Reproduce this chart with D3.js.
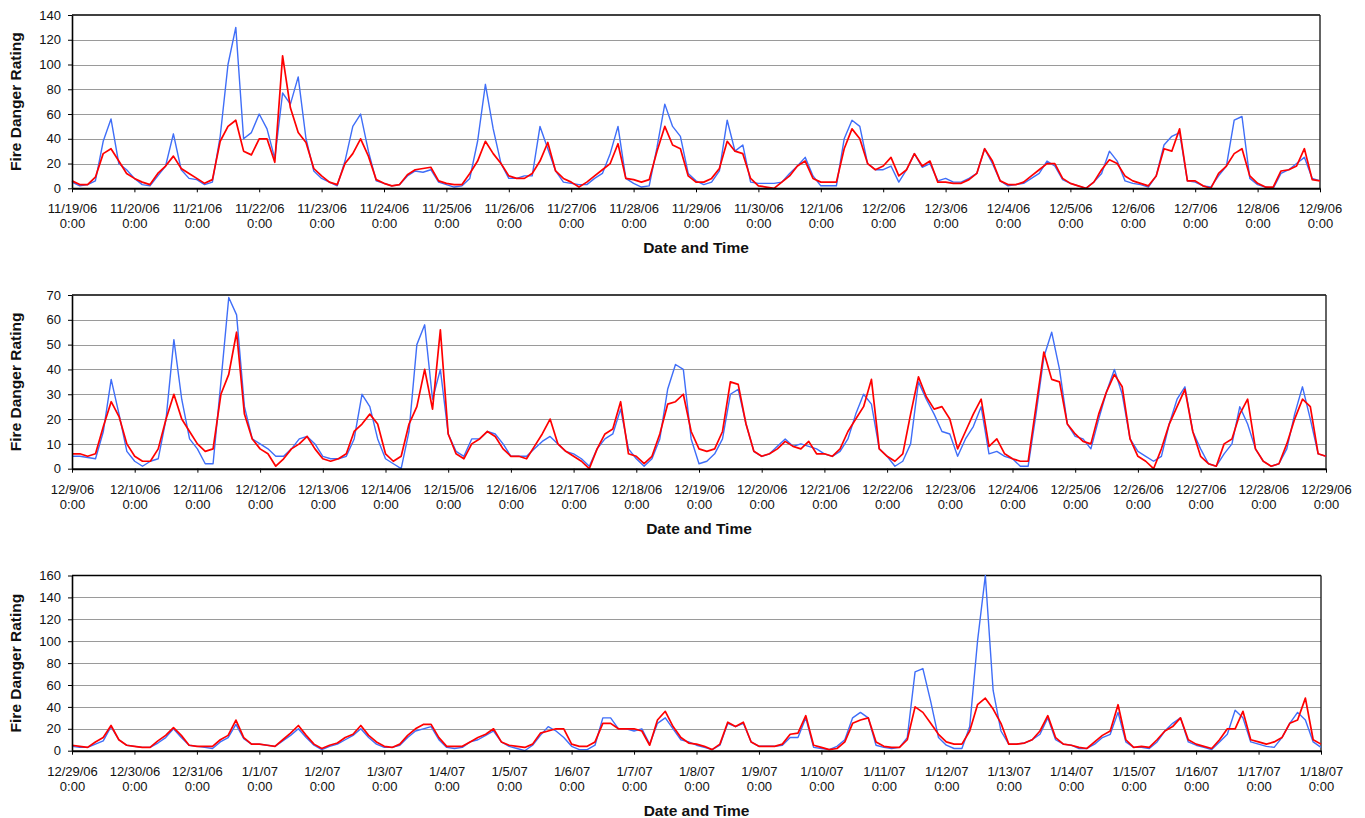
<!DOCTYPE html>
<html>
<head>
<meta charset="utf-8">
<script src="https://cdn.jsdelivr.net/npm/d3@7"></script>
<style>
  html, body { margin: 0; padding: 0; background: #fff; }
  svg { display: block; font-family: "Liberation Sans", Arial, sans-serif; }
</style>
</head>
<body>
<svg id="chart" width="1365" height="818"></svg>
<script>
// ---------- DATA (3-hourly readings, 20 days per panel + final point) ----------
const panelStarts = ["2006-11-19", "2006-12-09", "2006-12-29"];
const yMaxes = [140, 70, 160];
const ySteps = [20, 10, 20];
const xTitle = "Date and Time";
const yTitle = "Fire Danger Rating";

// blue series, panel 1
const p1Blue = [
  5,2,3,6,38,56,20,15,  8,3,2,10,18,44,15,8,  7,3,5,42,100,130,40,45,  60,48,24,77,68,90,40,14,
  8,5,2,22,50,60,30,6,  4,2,3,10,14,13,15,5,  3,1,2,8,38,84,48,20,  8,8,10,10,50,32,14,5,
  4,3,3,8,12,28,50,8,  4,1,2,33,68,50,42,12,  6,3,5,14,55,30,35,5,  4,4,4,5,12,18,25,10,
  2,2,2,40,55,50,20,15,  15,18,5,15,28,17,20,6,  8,5,5,8,12,32,20,6,  2,3,4,8,12,22,18,7,
  4,2,0,5,12,30,22,6,  4,3,1,10,35,42,45,6,  5,2,1,10,18,55,58,8,  3,1,0,12,15,20,25,8,
  6
];
// red series, panel 1
const p1Red = [
  6,3,3,9,28,32,22,12,  8,5,3,12,18,26,16,12,  8,4,7,38,50,55,30,27,  40,40,21,107,65,45,37,16,
  10,5,3,20,28,40,26,7,  4,2,3,11,15,16,17,6,  4,3,3,12,22,38,28,20,  10,8,8,12,22,37,14,8,
  5,1,5,10,15,20,36,8,  7,5,7,30,50,35,32,10,  5,5,8,16,38,30,28,8,  2,1,0,5,10,18,22,8,
  5,5,5,32,48,40,20,15,  18,25,10,15,28,18,22,5,  5,4,4,7,12,32,22,6,  3,3,5,10,15,20,20,8,
  4,2,0,5,15,23,20,10,  6,4,2,10,32,30,48,6,  6,2,0,12,18,28,32,10,  4,1,1,14,15,18,32,7,
  6
];
// blue series, panel 2
const p2Blue = [
  5,5,4.5,4,15,36,22,7,  3,1,3,4,20,52,28,12,  8,2,2,35,69,62,25,12,  10,8,5,5,8,12,13,10,
  5,4,4,5,12,30,25,12,  4,2,0,15,50,58,28,40,  14,7,5,12,12,15,14,10,  5,5,5,8,11,13,10,7,
  6,4,1,8,12,14,24,8,  4,1,4,12,32,42,40,12,  2,3,6,12,30,32,18,7,  5,6,9,12,9,10,9,8,
  6,5,7,12,22,30,26,8,  5,1,3,10,35,28,22,15,  14,5,12,17,25,6,7,5,  4,1,1,22,45,55,40,18,
  13,12,8,20,31,40,30,12,  7,5,3,5,18,28,33,15,  8,2,1,6,10,25,18,8,  3,1,2,8,22,33,20,6,
  5
];
// red series, panel 2
const p2Red = [
  6,6,5,6,17,27,21,10,  5,3,3,8,20,30,20,15,  10,7,8,30,38,55,22,12,  8,6,1,4,8,10,13,8,
  4,3,4,6,15,18,22,18,  6,3,5,18,25,40,24,56,  14,6,4,10,12,15,13,8,  5,5,4,9,14,20,10,7,
  5,3,0,8,14,16,27,6,  5,2,5,14,26,27,30,15,  8,7,8,15,35,34,18,7,  5,6,8,11,9,8,11,6,
  6,5,8,15,20,25,36,8,  5,3,6,22,37,29,24,25,  20,8,15,22,28,9,12,6,  4,3,3,25,47,36,35,18,
  14,11,10,22,31,38,33,12,  5,3,0,8,18,25,32,15,  5,2,1,10,12,22,28,8,  3,1,2,10,20,28,25,6,
  5
];
// blue series, panel 3
const p3Blue = [
  4,3,3,6,9,22,10,5,  4,3,3,7,12,20,12,5,  4,3,2,8,12,24,11,6,  6,5,4,9,14,20,12,5,
  1,4,6,10,14,20,12,6,  3,3,5,12,18,20,22,10,  3,2,3,8,10,14,18,8,  4,2,0,5,14,22,18,12,
  4,1,1,5,30,30,20,20,  18,20,6,25,30,20,10,8,  5,3,1,5,25,22,25,8,  4,4,4,5,12,12,30,3,
  2,1,4,10,30,35,30,5,  3,2,3,12,72,75,45,12,  5,2,2,22,100,160,55,18,  6,6,7,10,15,30,10,6,
  5,2,2,6,12,15,35,8,  3,3,2,8,18,25,30,8,  5,3,1,8,15,37,30,8,  6,4,3,12,25,35,28,8,
  3
];
// red series, panel 3
const p3Red = [
  5,4,3,8,12,23,10,5,  4,3,3,9,14,21,14,5,  4,4,4,10,14,28,12,6,  6,5,4,10,16,23,14,6,
  2,5,7,12,15,23,14,8,  4,3,6,14,20,24,24,12,  4,4,4,8,12,15,20,8,  5,4,3,6,16,18,20,20,
  6,4,4,8,25,25,20,20,  20,18,5,28,36,22,12,7,  6,4,1,6,26,22,26,8,  4,4,4,6,15,16,32,5,
  3,1,2,8,25,28,30,8,  4,3,3,10,40,35,25,15,  8,6,6,18,42,48,38,25,  6,6,7,10,18,32,12,6,
  5,3,2,8,14,18,42,10,  3,4,3,10,18,22,30,10,  6,4,2,10,20,20,36,10,  8,6,8,12,25,28,48,10,
  6
];

const blueSeries = [p1Blue, p2Blue, p3Blue];
const redSeries = [p1Red, p2Red, p3Red];

// ---------- LAYOUT ----------
const layouts = [
  { left: 72, right: 1320, top: 15,    bottom: 188.3 },
  { left: 72, right: 1326, top: 295,   bottom: 468.7 },
  { left: 72, right: 1321, top: 575.5, bottom: 750.7 }
];
const blueColor = "#3f6ef8";
const redColor = "#ff0000";

const svg = d3.select("#chart");
const parseDay = d3.timeParse("%Y-%m-%d");
const fmtDate = d => `${d.getMonth() + 1}/${d.getDate()}/${String(d.getFullYear()).slice(2)}`;

layouts.forEach((L, i) => {
  const start = parseDay(panelStarts[i]);
  const end = d3.timeDay.offset(start, 20);
  const x = d3.scaleTime().domain([start, end]).range([L.left, L.right]);
  const y = d3.scaleLinear().domain([0, yMaxes[i]]).range([L.bottom, L.top]);
  const g = svg.append("g");

  const yTicks = d3.range(0, yMaxes[i] + ySteps[i] / 2, ySteps[i]);

  // grid
  g.append("g").selectAll("line")
    .data(yTicks.filter(v => v > 0 && v < yMaxes[i]))
    .join("line")
    .attr("x1", L.left).attr("x2", L.right)
    .attr("y1", d => Math.round(y(d)) + 0.5).attr("y2", d => Math.round(y(d)) + 0.5)
    .attr("stroke", "#9a9a9a").attr("stroke-width", 1);

  // frame top & right
  g.append("line").attr("x1", L.left).attr("x2", L.right).attr("y1", L.top).attr("y2", L.top)
    .attr("stroke", "#000").attr("stroke-width", 1.6);
  g.append("line").attr("x1", L.right).attr("x2", L.right).attr("y1", L.top).attr("y2", L.bottom)
    .attr("stroke", "#222").attr("stroke-width", 1.4);

  // lines
  const pts = arr => arr.map((v, k) => ({ t: d3.timeHour.offset(start, k * 3), v }));
  const line = d3.line().x(d => x(d.t)).y(d => y(d.v));
  g.append("path").datum(pts(blueSeries[i])).attr("d", line)
    .attr("fill", "none").attr("stroke", blueColor).attr("stroke-width", 1.4)
    .attr("stroke-linejoin", "round");
  g.append("path").datum(pts(redSeries[i])).attr("d", line)
    .attr("fill", "none").attr("stroke", redColor).attr("stroke-width", 1.7)
    .attr("stroke-linejoin", "round");

  // y axis
  const yAxis = g.append("g").attr("transform", `translate(${L.left},0)`)
    .call(d3.axisLeft(y).tickValues(yTicks).tickSize(4).tickPadding(7).tickSizeOuter(0));
  yAxis.select(".domain").attr("stroke", "#000").attr("stroke-width", 1.6);
  yAxis.selectAll(".tick line").attr("stroke", "#000");
  yAxis.selectAll("text").attr("font-size", 13).attr("fill", "#111")
    .attr("font-family", "'Liberation Sans', Arial, sans-serif");

  // x axis
  const xAxis = g.append("g").attr("transform", `translate(0,${L.bottom})`)
    .call(d3.axisBottom(x).ticks(d3.timeDay.every(1)).tickSize(4).tickSizeOuter(0).tickFormat(fmtDate));
  xAxis.select(".domain").attr("stroke", "#000").attr("stroke-width", 2);
  xAxis.selectAll(".tick line").attr("stroke", "#000");
  xAxis.selectAll(".tick text").each(function (d) {
    const t = d3.select(this);
    t.text(null).attr("y", null).attr("dy", null)
      .attr("font-size", 13).attr("fill", "#111")
      .attr("font-family", "'Liberation Sans', Arial, sans-serif");
    t.append("tspan").attr("x", 0).attr("y", 25).text(fmtDate(d));
    t.append("tspan").attr("x", 0).attr("y", 40).text("0:00");
  });

  // titles
  g.append("text")
    .attr("x", (L.left + L.right) / 2).attr("y", L.bottom + 65)
    .attr("text-anchor", "middle").attr("font-weight", "bold").attr("font-size", 15.5)
    .attr("fill", "#111").text(xTitle);
  g.append("text")
    .attr("transform", `translate(21,${(L.top + L.bottom) / 2}) rotate(-90)`)
    .attr("text-anchor", "middle").attr("font-weight", "bold").attr("font-size", 15.5)
    .attr("fill", "#111").text(yTitle);
});
</script>
</body>
</html>
